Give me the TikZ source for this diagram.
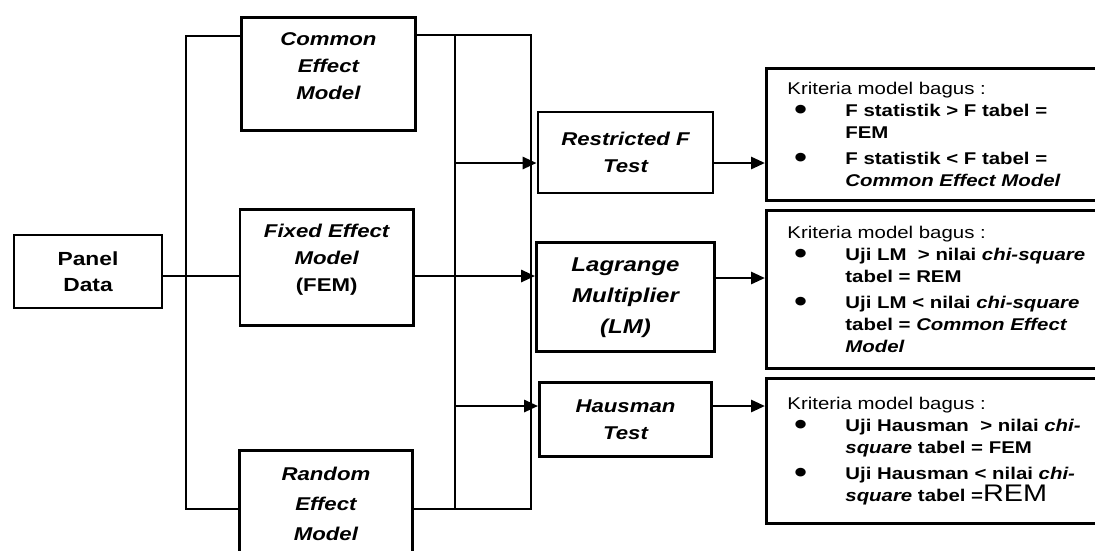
\documentclass[tikz,border=0pt]{standalone}
\usepackage{fontspec}
\setmainfont{Liberation Sans}[FakeStretch=1.2]
\usetikzlibrary{arrows.meta, positioning, calc}
\tikzstyle{modelbox} = [rectangle, draw=black, line width=2.8pt, minimum width=174pt, inner sep=0pt, anchor=north west, font=\fontsize{18.5}{27}\selectfont\bfseries\itshape]
\tikzstyle{testbox} = [rectangle, draw=black, line width=2.8pt, align=center, inner sep=0pt, font=\fontsize{18.5}{27}\selectfont\bfseries\itshape]
\tikzstyle{critbox} = [rectangle, draw=black, line width=2.8pt, text width=320pt, inner xsep=21pt, inner ysep=0pt, align=left, anchor=north west, font=\fontsize{17}{22}\selectfont]
\tikzstyle{line} = [line width=2.8pt]
\tikzstyle{arrow} = [line width=2.8pt, -{Triangle[length=14pt,width=12pt]}]
\newcommand{\bul}{\makebox[58pt][l]{\hspace{7pt}\raisebox{-3pt}{\fontsize{30}{0}\selectfont\textbullet}}}
\newcommand{\ind}{\hspace*{58pt}}

\begin{document}
\begin{tikzpicture}[x=1pt, y=-1pt]
\useasboundingbox (0,0) rectangle (1095,550);
\clip (0,0) rectangle (1095,550);

% Nodes
\node (panel) [testbox, font=\fontsize{19}{26.5}\selectfont\bfseries, minimum width=148pt, minimum height=73pt] at (88,271.5) {Panel\\Data};

\node (cem) [modelbox, text height=28pt, text depth=85pt] at (240,16) {\begin{tabular}[t]{@{}c@{}}Common\\Effect\\Model\end{tabular}};
\node (fem) [modelbox, text height=28pt, text depth=88pt, minimum width=173.5pt] at (238.5,208) {\begin{tabular}[t]{@{}c@{}}Fixed Effect\\Model\\\upshape(FEM)\end{tabular}};
\node (rem) [modelbox, font=\fontsize{18.5}{30}\selectfont\bfseries\itshape, text height=30pt, text depth=81pt, minimum width=173pt] at (238,449) {\begin{tabular}[t]{@{}c@{}}Random\\Effect\\Model\end{tabular}};

\node (rft) [testbox, minimum width=175pt, minimum height=81pt] at (625.5,152.5) {Restricted F\\Test};
\node (lm) [testbox, font=\fontsize{20}{31}\selectfont\bfseries\itshape, minimum width=178pt, minimum height=109pt, below=47pt of rft] {Lagrange\\Multiplier\\(LM)};
\node (hm) [testbox, minimum width=172pt, minimum height=74pt, below=28pt of lm] {Hausman\\Test};

\node (crit1) [critbox, minimum height=132pt] at (765,67) {Kriteria model bagus :\\
\bfseries\bul F statistik > F tabel =\\
\ind FEM\\[4pt]
\bul F statistik < F tabel =\\
\ind\textit{Common Effect Model}};
\node (crit2) [critbox, minimum height=158pt] at (765,209) {Kriteria model bagus :\\
\bfseries\bul Uji LM\ \ > nilai \textit{chi-square}\\
\ind tabel = REM\\[4pt]
\bul Uji LM < nilai \textit{chi-square}\\
\ind tabel = \textit{Common Effect}\\
\ind\textit{Model}};
\node (crit3) [critbox, minimum height=145pt] at (765,377) {Kriteria model bagus :\\
\bfseries\bul Uji Hausman\ \ > nilai \textit{chi-}\\
\ind\textit{square} tabel = FEM\\[4pt]
\bul Uji Hausman < nilai \textit{chi-}\\
\ind\textit{square} tabel =\mdseries\fontsize{24}{22}\selectfont REM\\[6pt]};

% Bus lines
\coordinate (tl) at (186,36);
\coordinate (bl) at (186,509);
\coordinate (jl) at (186,276);
\coordinate (tr1) at (455,35);
\coordinate (br1) at (455,509);
\coordinate (tr2) at (531,35);
\coordinate (br2) at (531,509);
\draw [line] (cem.west |- tl) -- (tl) -- (bl) -- (rem.west |- bl);
\draw [line] (panel.east |- jl) -- (fem.west |- jl);
\draw [line] (cem.east |- tr1) -- (tr2) -- (br2) -- (rem.east |- br2);
\draw [line] (tr1) -- (br1);

% Arrows
\coordinate (a1) at (455,163);
\coordinate (a2) at (455,276);
\coordinate (a3) at (455,406);
\coordinate (b2) at (713,278);
\draw [arrow] (a1) -- (a1 -| rft.west);
\draw [arrow] (fem.east |- a2) -- (a2 -| lm.west);
\draw [arrow] (a3) -- (a3 -| hm.west);
\draw [arrow] (rft.east |- a1) -- (a1 -| crit1.west);
\draw [arrow] (lm.east |- b2) -- (b2 -| crit2.west);
\draw [arrow] (hm.east |- a3) -- (a3 -| crit3.west);

\end{tikzpicture}
\end{document}
